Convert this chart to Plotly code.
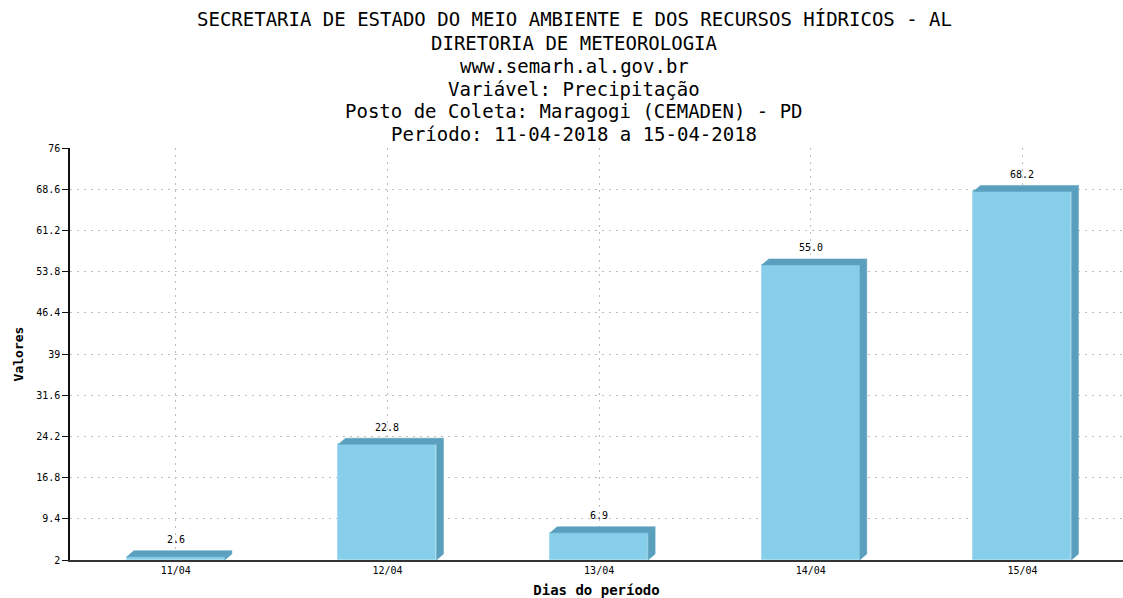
import plotly.graph_objects as go

# ---- data ----
categories = ["11/04", "12/04", "13/04", "14/04", "15/04"]
values = [2.6, 22.8, 6.9, 55.0, 68.2]
y_ticks = [2, 9.4, 16.8, 24.2, 31.6, 39, 46.4, 53.8, 61.2, 68.6, 76]
y_tick_labels = ["2", "9.4", "16.8", "24.2", "31.6", "39", "46.4", "53.8", "61.2", "68.6", "76"]
title_lines = [
    "SECRETARIA DE ESTADO DO MEIO AMBIENTE E DOS RECURSOS HÍDRICOS - AL",
    "DIRETORIA DE METEOROLOGIA",
    "www.semarh.al.gov.br",
    "Variável: Precipitação",
    "Posto de Coleta: Maragogi (CEMADEN) - PD",
    "Período: 11-04-2018 a 15-04-2018",
]
baseline = 2

# ---- layout constants ----
W, H = 1123, 598
L, R, T, B = 70, 0, 148, 38
plot_w = W - L - R
plot_h = H - T - B
x_lo, x_hi = -0.5, 4.475
y_lo, y_hi = 2, 76
px_per_x = plot_w / (x_hi - x_lo)
px_per_y = plot_h / (y_hi - y_lo)
bar_w = 0.463
dx = 7 / px_per_x
dy = 6 / px_per_y

front = "#87CEEB"
dark = "#5AA0BE"
mono = "DejaVu Sans Mono"

xs = list(range(len(categories)))

fig = go.Figure()
fig.add_trace(go.Bar(
    x=xs, y=[v - baseline for v in values], base=[baseline] * len(values),
    width=bar_w, marker=dict(color=front, line=dict(color="#a6dcf0", width=1)),
    hoverinfo="skip", showlegend=False,
))

# 3D top and side faces
tx, ty, sx, sy = [], [], [], []
for i, v in zip(xs, values):
    x0, x1 = i - bar_w / 2, i + bar_w / 2
    tx += [x0, x0 + dx, x1 + dx, x1, x0, None]
    ty += [v, v + dy, v + dy, v, v, None]
    sx += [x1, x1, x1 + dx, x1 + dx, x1, None]
    sy += [baseline, v, v + dy, baseline + dy, baseline, None]
for px, py in ((tx, ty), (sx, sy)):
    fig.add_trace(go.Scatter(
        x=px, y=py, mode="lines", fill="toself", fillcolor=dark,
        line=dict(color=dark, width=0.5), hoverinfo="skip", showlegend=False,
    ))

annotations = []
for i, v in zip(xs, values):
    annotations.append(dict(
        x=i, y=v, xref="x", yref="y", text=f"{v:.1f}", showarrow=False,
        yshift=17, font=dict(family=mono, size=10, color="#000"),
    ))

title_py = [19, 43, 66, 89, 111, 134]
for line, py in zip(title_lines, title_py):
    annotations.append(dict(
        x=(574 - L) / plot_w, y=(H - B - py) / plot_h, xref="paper", yref="paper",
        text=line, showarrow=False, xanchor="center", yanchor="middle",
        font=dict(family=mono, size=19, color="#000"),
    ))

fig.update_layout(
    width=W, height=H,
    margin=dict(l=L, r=R, t=T, b=B, pad=0),
    plot_bgcolor="white", paper_bgcolor="white",
    bargap=0,
    annotations=annotations,
    xaxis=dict(
        range=[x_lo, x_hi], tickmode="array", tickvals=xs, ticktext=categories,
        showgrid=True, gridcolor="#bdbdbd", griddash="2px,5px", gridwidth=1.2,
        showline=True, linecolor="#333", linewidth=1.5, ticks="", zeroline=False,
        tickfont=dict(family=mono, size=10, color="#000"),
        title=dict(text="<b>Dias do período</b>", font=dict(family=mono, size=14, color="#000"), standoff=10),
        fixedrange=True, automargin=False,
    ),
    yaxis=dict(
        range=[y_lo, y_hi], tickmode="array", tickvals=y_ticks, ticktext=y_tick_labels,
        showgrid=True, gridcolor="#bdbdbd", griddash="2px,5px", gridwidth=1.2,
        showline=True, linecolor="#111", linewidth=1.5, ticks="outside", ticklen=6,
        tickcolor="#111", zeroline=False,
        tickfont=dict(family=mono, size=10, color="#000"),
        title=dict(text="<b>Valores</b>", font=dict(family=mono, size=13, color="#000"), standoff=10),
        fixedrange=True, automargin=False,
    ),
)

fig.write_html("out.html", config={"displayModeBar": False},
               post_script="document.body.style.margin='0';")
